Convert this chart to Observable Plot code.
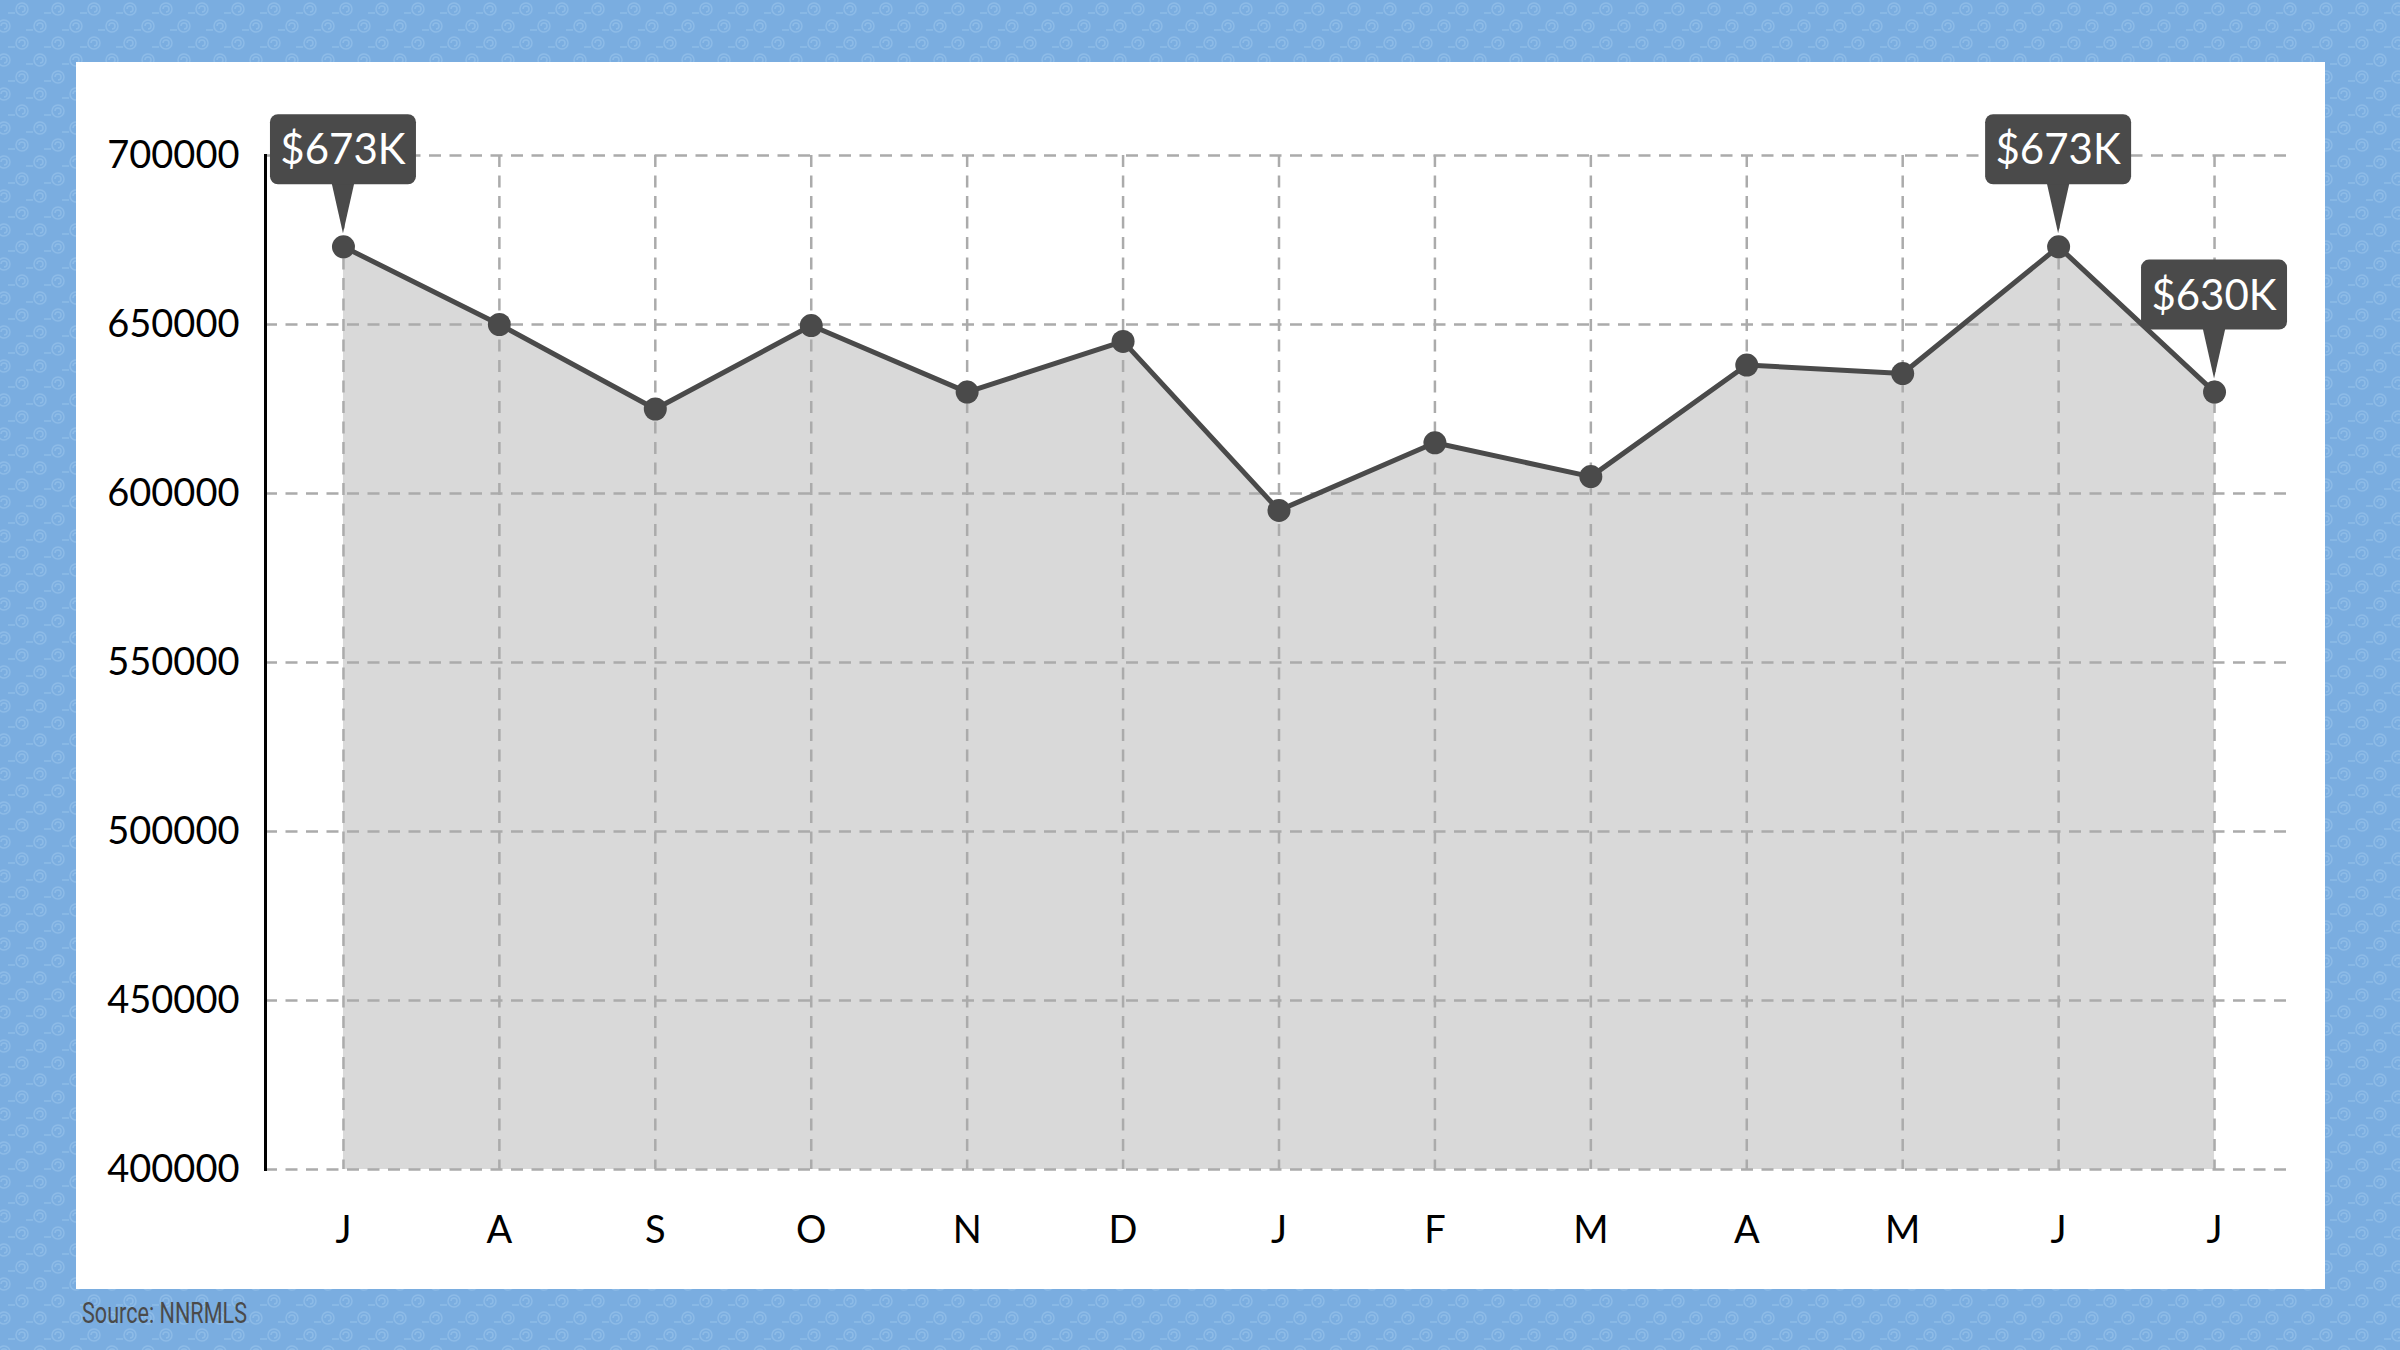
<!DOCTYPE html>
<html>
<head>
<meta charset="utf-8">
<script src="https://cdn.jsdelivr.net/npm/d3@7"></script>
<script src="https://cdn.jsdelivr.net/npm/@observablehq/plot@0.6"></script>
<style>
  html, body { margin: 0; padding: 0; }
  body {
    width: 2400px; height: 1350px; position: relative; overflow: hidden;
    background-color: #7aade0;
    background-image: url("data:image/svg+xml,%3Csvg xmlns='http://www.w3.org/2000/svg' width='36' height='34'%3E%3Cg fill='none' stroke='%238dbbe7' stroke-width='1.5'%3E%3Cpath d='M16 9a6 6 0 1 1 12 0a6 6 0 1 1-12 0M19 9a3 3 0 1 1 3 3M8 13h7'/%3E%3Cpath d='M-2 26a6 6 0 1 1 12 0a6 6 0 1 1-12 0M1 26a3 3 0 1 1 3 3M-10 30h7'/%3E%3Cpath d='M34 26a6 6 0 1 1 12 0a6 6 0 1 1-12 0M37 26a3 3 0 1 1 3 3M26 30h7'/%3E%3C/g%3E%3C/svg%3E");
    background-size: 36px 34px;
  }
  #panel { position: absolute; left: 76px; top: 62px; width: 2249px; height: 1227px; background: #fff; }
  #panel svg { display: block; }
  #source {
    position: absolute; left: 82px; top: 1298px;
    font-family: Roboto, "Liberation Sans", sans-serif; font-size: 30px; line-height: 30px;
    color: #4a4a4a; transform: scaleX(0.72); transform-origin: left top; white-space: nowrap;
  }
</style>
</head>
<body>
<div id="panel"></div>
<div id="source">Source: NNRMLS</div>
<script>
const months = ["J","A","S","O","N","D","J","F","M","A","M","J","J"];
const prices = [673000,650000,625000,649700,630000,645000,595000,615000,605000,638000,635500,673000,630000];
const yTicks = [400000,450000,500000,550000,600000,650000,700000];
const calloutIndex = [0, 11, 12];
const calloutText = ["$673K", "$673K", "$630K"];

const data = months.map((m, i) => ({i, m, v: prices[i]}));
const callouts = calloutIndex.map((idx, k) => ({i: idx, v: prices[idx], label: calloutText[k]}));
const xs = d3.range(months.length);

const gridStyle = {stroke: "#ababab", strokeOpacity: 1, strokeWidth: 2.5, strokeDasharray: "12,8.5"};

const chart = Plot.plot({
  width: 2249,
  height: 1227,
  marginLeft: 189,
  marginRight: 33,
  marginTop: 93,
  marginBottom: 120,
  style: {fontFamily: "Lato, sans-serif", fontSize: "38px", color: "#000", background: "#fff", overflow: "visible"},
  x: {type: "point", domain: xs, padding: 0.5, round: false, label: null},
  y: {domain: [400000, 700000], label: null},
  marks: [
    Plot.areaY(data, {x: "i", y1: 400000, y2: "v", fill: "#d9d9d9"}),
    Plot.gridY(yTicks, gridStyle),
    Plot.gridX(xs, gridStyle),
    Plot.frame({anchor: "left", stroke: "#000", strokeWidth: 3}),
    Plot.axisY(yTicks, {tickSize: 0, tickPadding: 26, tickFormat: d => String(d), fill: "#000", fontSize: 38, label: null}),
    Plot.axisX(xs, {tickSize: 0, tickPadding: 47, tickFormat: i => months[i], fill: "#000", fontSize: 38, label: null}),
    Plot.line(data, {x: "i", y: "v", stroke: "#4a4a4a", strokeWidth: 5}),
    Plot.dot(data, {x: "i", y: "v", r: 11.5, fill: "#4a4a4a", stroke: "none"}),
    Plot.dot(callouts, {
      x: "i", y: "v", r: 1,
      render(index, scales, values) {
        const g = d3.create("svg:g");
        for (const k of index) {
          const cx = values.x[k], cy = values.y[k];
          const bw = 146, bh = 70;
          const by = cy - 62 - bh;
          g.append("path")
            .attr("d", `M${cx - 11.5},${by + bh - 2}L${cx + 11.5},${by + bh - 2}L${cx},${cy - 13}Z`)
            .attr("fill", "#4a4a4a");
          g.append("rect")
            .attr("x", cx - bw / 2).attr("y", by)
            .attr("width", bw).attr("height", bh)
            .attr("rx", 8).attr("fill", "#4a4a4a");
          g.append("text")
            .attr("x", cx).attr("y", by + bh / 2 + 15)
            .attr("text-anchor", "middle")
            .attr("fill", "#fff")
            .attr("font-family", "Lato, sans-serif")
            .attr("font-size", 42)
            .text(callouts[k].label);
        }
        return g.node();
      }
    })
  ]
});
document.getElementById("panel").appendChild(chart);
</script>
</body>
</html>
